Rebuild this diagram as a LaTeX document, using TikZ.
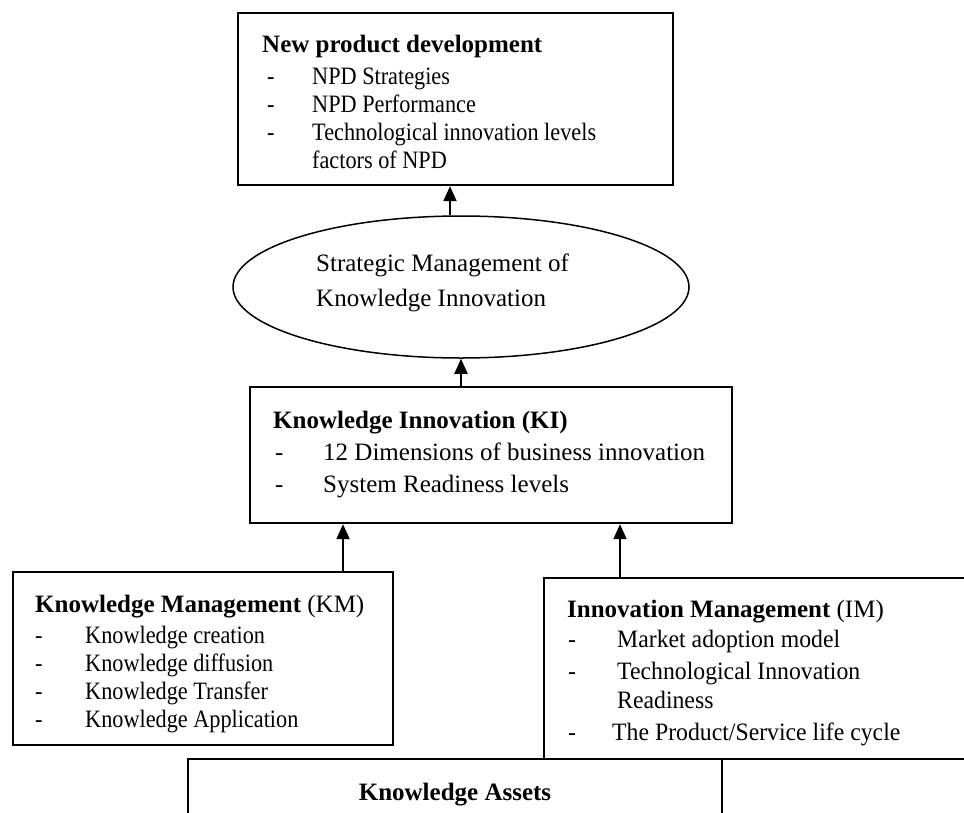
\documentclass[tikz,border=0pt]{standalone}
\usepackage{fontspec}
\setmainfont{Liberation Serif}
\newfontfamily\narrowA[FakeStretch=0.89]{Liberation Serif}
\newfontfamily\narrowB[FakeStretch=0.95]{Liberation Serif}
\usetikzlibrary{shapes.geometric,arrows.meta}
\begin{document}
\begin{tikzpicture}[x=1pt,y=-1pt,
  box/.style={draw, line width=2.4pt, inner sep=0pt},
  txt/.style={anchor=base west, inner sep=0pt, font=\narrowA\fontsize{25}{30}\selectfont},
  txtb/.style={anchor=base west, inner sep=0pt, font=\fontsize{25}{30}\selectfont},
  txtm/.style={anchor=base west, inner sep=0pt, font=\narrowB\fontsize{25}{30}\selectfont},
  ttl/.style={anchor=base west, inner sep=0pt, font=\fontsize{25}{30}\selectfont\bfseries},
  arr/.style={line width=2pt, -{Triangle[length=15pt,width=13pt]}}]
\useasboundingbox[fill=white] (0,0) rectangle (964,812);

% boxes
\node[box, minimum width=435pt, minimum height=172pt] (npd) at (455.5,99) {};
\node[draw, ellipse, line width=1.5pt, minimum width=456pt, minimum height=142pt, inner sep=0pt] (ell) at (461,287) {};
\node[box, minimum width=482pt, minimum height=136pt] (ki) at (491,455) {};
\node[box, minimum width=380pt, minimum height=173pt] (km) at (203,658.5) {};
\node[box, minimum width=456pt, minimum height=181pt] (im) at (772,668.5) {};
\node[box, minimum width=534pt, minimum height=101pt] (ka) at (455,809.5) {};

% NPD text
\node[ttl] (npdt) at (262,52) {New product development};
\node[txt] (npdd1) at (267,84) {-};
\node[txt] (npdi1) at (312,84) {NPD Strategies};
\node[txt] (npdd2) at (267,112) {-};
\node[txt] (npdi2) at (312,112) {NPD Performance};
\node[txt] (npdd3) at (267,140) {-};
\node[txt] (npdi3) at (312,140) {Technological innovation levels};
\node[txt] (npdi4) at (312,168) {factors of NPD};

% ellipse text
\node[txtb] (ellt1) at (316,271) {Strategic Management of};
\node[txtb] (ellt2) at (316,306) {Knowledge Innovation};

% KI text
\node[ttl] (kit) at (273,428) {Knowledge Innovation (KI)};
\node[txtb] (kid1) at (275,460) {-};
\node[txtb] (kii1) at (323,460) {12 Dimensions of business innovation};
\node[txtb] (kid2) at (275,492) {-};
\node[txtb] (kii2) at (323,492) {System Readiness levels};

% KM text
\node[ttl] (kmt) at (35,612) {Knowledge Management \textmd{(KM)}};
\node[txt] (kmd1) at (35,643) {-};
\node[txt] (kmi1) at (85,643) {Knowledge creation};
\node[txt] (kmd2) at (35,671) {-};
\node[txt] (kmi2) at (85,671) {Knowledge diffusion};
\node[txt] (kmd3) at (35,699) {-};
\node[txt] (kmi3) at (85,699) {Knowledge Transfer};
\node[txt] (kmd4) at (35,727) {-};
\node[txt] (kmi4) at (85,727) {Knowledge Application};

% IM text
\node[ttl] (imt) at (567,617) {Innovation Management \textmd{(IM)}};
\node[txtm] (imd1) at (568,647) {-};
\node[txtm] (imi1) at (617,647) {Market adoption model};
\node[txtm] (imd2) at (568,679) {-};
\node[txtm] (imi2) at (617,679) {Technological Innovation};
\node[txtm] (imi3) at (617,708) {Readiness};
\node[txtm] (imd3) at (568,740) {-};
\node[txtm] (imi4) at (612,740) {The Product/Service life cycle};

% KA text
\node[ttl, anchor=base] (kat) at (455,800) {Knowledge Assets};

% arrows
\draw[arr] ([xshift=-11pt]ell.north) -- ([xshift=-11pt]ell.north |- npd.south);
\draw[arr] (ell.south |- ki.north) -- (ell.south);
\draw[arr] ([xshift=140pt]km.north) -- ([xshift=140pt]km.north |- ki.south);
\draw[arr] ([xshift=-152pt]im.north) -- ([xshift=-152pt]im.north |- ki.south);
\end{tikzpicture}
\end{document}
